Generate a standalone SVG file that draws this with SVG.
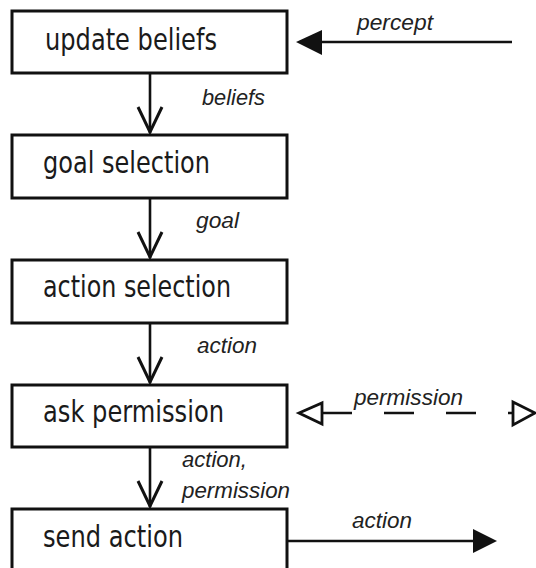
<svg xmlns="http://www.w3.org/2000/svg" width="536" height="568" viewBox="0 0 536 568">
<style>
.box{fill:#fff;stroke:#111;stroke-width:3}
.t{font-family:"DejaVu Sans",sans-serif;font-size:30px;fill:#1a1a1a}
.l{font-family:"Liberation Sans",Arial,sans-serif;font-style:italic;font-size:22px;fill:#222}
.c{stroke:#111;stroke-width:2.6;fill:none}
.v{stroke:#111;stroke-width:3;fill:none;stroke-linejoin:miter}
.f{fill:#111;stroke:none}
.o{fill:#fff;stroke:#111;stroke-width:2.8}
</style>
<rect width="536" height="568" fill="#fff"/>
<g id="update-beliefs"><rect class="box" x="12" y="11" width="275" height="62"/><text class="t" x="45" y="50" textLength="172" lengthAdjust="spacingAndGlyphs">update beliefs</text></g>
<g id="goal-selection"><rect class="box" x="12" y="135" width="275" height="63"/><text class="t" x="43" y="173" textLength="167" lengthAdjust="spacingAndGlyphs">goal selection</text></g>
<g id="action-selection"><rect class="box" x="12" y="260" width="275" height="63"/><text class="t" x="43" y="297" textLength="188" lengthAdjust="spacingAndGlyphs">action selection</text></g>
<g id="ask-permission"><rect class="box" x="12" y="385" width="275" height="62"/><text class="t" x="43" y="422" textLength="181" lengthAdjust="spacingAndGlyphs">ask permission</text></g>
<g id="send-action"><rect class="box" x="12" y="509" width="275" height="70"/><text class="t" x="43" y="547" textLength="140" lengthAdjust="spacingAndGlyphs">send action</text></g>
<g id="connectors">
<line class="c" x1="150" y1="73" x2="150" y2="133"/><polyline class="v" points="138,107 150,132 162,107"/>
<text class="l" x="202" y="105" textLength="63" lengthAdjust="spacingAndGlyphs">beliefs</text>
<line class="c" x1="150" y1="198" x2="150" y2="258"/><polyline class="v" points="138,232 150,257 162,232"/>
<text class="l" x="196" y="228" textLength="43" lengthAdjust="spacingAndGlyphs">goal</text>
<line class="c" x1="150" y1="323" x2="150" y2="383"/><polyline class="v" points="138,357 150,382 162,357"/>
<text class="l" x="197" y="353" textLength="60" lengthAdjust="spacingAndGlyphs">action</text>
<line class="c" x1="150" y1="447" x2="150" y2="507"/><polyline class="v" points="138,481 150,506 162,481"/>
<text class="l" x="182" y="467" textLength="65" lengthAdjust="spacingAndGlyphs">action,</text>
<text class="l" x="182" y="498" textLength="108" lengthAdjust="spacingAndGlyphs">permission</text>
<line class="c" x1="320" y1="42" x2="512" y2="42"/><polygon class="f" points="296,42 322,30 322,55"/>
<text class="l" x="357" y="30" textLength="76" lengthAdjust="spacingAndGlyphs">percept</text>
<line class="c" x1="322" y1="413" x2="513" y2="413" stroke-dasharray="30 32"/>
<polygon class="o" points="299,413 322,403 322,424"/>
<polygon class="o" points="535,413 513,402 513,425"/>
<text class="l" x="354" y="405" textLength="109" lengthAdjust="spacingAndGlyphs">permission</text>
<line class="c" x1="287" y1="541" x2="475" y2="541"/><polygon class="f" points="497,541 473,529 473,553"/>
<text class="l" x="352" y="528" textLength="60" lengthAdjust="spacingAndGlyphs">action</text>
</g>
</svg>
